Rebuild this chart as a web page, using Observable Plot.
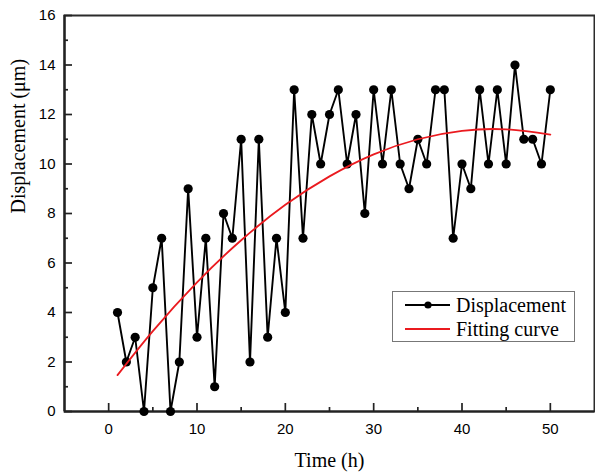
<!DOCTYPE html>
<html>
<head>
<meta charset="utf-8">
<script src="https://cdn.jsdelivr.net/npm/d3@7"></script>
<script src="https://cdn.jsdelivr.net/npm/@observablehq/plot@0.6"></script>
<style>
  html, body { margin: 0; padding: 0; background: #fff; }
  #wrap { position: relative; width: 595px; height: 473px; }
  #legend { position: absolute; left: 392px; top: 291px; }
</style>
</head>
<body>
<div id="wrap"></div>
<script>
// ---- data ----
const time = [1,2,3,4,5,6,7,8,9,10,11,12,13,14,15,16,17,18,19,20,21,22,23,24,25,26,27,28,29,30,31,32,33,34,35,36,37,38,39,40,41,42,43,44,45,46,47,48,49,50];
const displacement = [4,2,3,0,5,7,0,2,9,3,7,1,8,7,11,2,11,3,7,4,13,7,12,10,12,13,10,12,8,13,10,13,10,9,11,10,13,13,7,10,9,13,10,13,10,14,11,11,10,13];
const fitTime = [1,5,10,15,20,25,30,35,40,45,50];
const fitValue = [1.47,3.25,5.22,6.92,8.35,9.50,10.39,11.00,11.34,11.40,11.19];
const xMajor = [0,10,20,30,40,50];
const xMinor = [5,15,25,35,45];
const yMajor = [0,2,4,6,8,10,12,14,16];
const yMinor = [1,3,5,7,9,11,13,15];
const seriesNames = ["Displacement", "Fitting curve"];

const pts = time.map((t, i) => ({t, v: displacement[i]}));
const fit = fitTime.map((t, i) => ({t, v: fitValue[i]}));

const axisColor = "#222";
const red = "#ea1a1f";
const sans = "'Liberation Sans', Arial, sans-serif";
const serif = "'Liberation Serif', 'Times New Roman', serif";

const chart = Plot.plot({
  width: 595,
  height: 473,
  marginLeft: 64,
  marginRight: 1,
  marginTop: 15,
  marginBottom: 62,
  style: {fontFamily: sans, fontSize: "15px", color: "#000", background: "#fff"},
  x: {domain: [-5, 55]},
  y: {domain: [0, 16]},
  marks: [
    Plot.frame({stroke: "#2b2b2b", strokeWidth: 2}),
    Plot.axisX({ticks: xMajor, tickSize: -8, tickFormat: () => "", stroke: axisColor, strokeWidth: 1.7, label: null}),
    Plot.axisX({ticks: xMinor, tickSize: -4, tickFormat: () => "", stroke: axisColor, strokeWidth: 1.7, label: null}),
    Plot.axisX({ticks: xMajor, tickSize: 0, tickPadding: 12, label: null, fill: "#000"}),
    Plot.axisY({ticks: yMajor, tickSize: -8, tickFormat: () => "", stroke: axisColor, strokeWidth: 1.7, label: null}),
    Plot.axisY({ticks: yMinor, tickSize: -4, tickFormat: () => "", stroke: axisColor, strokeWidth: 1.7, label: null}),
    Plot.axisY({ticks: yMajor, tickSize: 0, tickPadding: 9, label: null, fill: "#000"}),
    Plot.ruleY([0], {stroke: axisColor, strokeWidth: 2.2}),
    Plot.ruleX([-5], {stroke: axisColor, strokeWidth: 2.2}),
    Plot.line(pts, {x: "t", y: "v", stroke: "#000", strokeWidth: 1.9}),
    Plot.dot(pts, {x: "t", y: "v", r: 4.6, fill: "#000", stroke: "none"}),
    Plot.line(fit, {x: "t", y: "v", stroke: red, strokeWidth: 1.8, curve: "natural"}),
    Plot.text(["Time (h)"], {frameAnchor: "bottom", dy: 49, fontFamily: serif, fontSize: 20, fill: "#000", lineAnchor: "middle"}),
    Plot.text(["Displacement (μm)"], {frameAnchor: "left", dx: -46, rotate: -90, fontFamily: serif, fontSize: 20, fill: "#000", lineAnchor: "middle"})
  ]
});

const wrap = document.getElementById("wrap");
wrap.appendChild(chart);

// legend (overlay)
const legend = d3.create("svg")
  .attr("id", "legend")
  .attr("width", 184)
  .attr("height", 52);
legend.append("rect").attr("x", 0.5).attr("y", 0.5).attr("width", 182).attr("height", 50)
  .attr("fill", "#fff").attr("stroke", "#777").attr("stroke-width", 1);
const rows = [{name: seriesNames[0], color: "#000", dot: true, y: 14}, {name: seriesNames[1], color: red, dot: false, y: 38}];
for (const r of rows) {
  legend.append("line").attr("x1", 13).attr("x2", 58).attr("y1", r.y).attr("y2", r.y)
    .attr("stroke", r.color).attr("stroke-width", 1.8);
  if (r.dot) legend.append("circle").attr("cx", 36).attr("cy", r.y).attr("r", 3.6).attr("fill", "#000");
  legend.append("text").attr("x", 64).attr("y", r.y).attr("dy", "0.34em")
    .attr("font-family", serif).attr("font-size", 20).attr("fill", "#000").text(r.name);
}
wrap.appendChild(legend.node());
</script>
</body>
</html>
